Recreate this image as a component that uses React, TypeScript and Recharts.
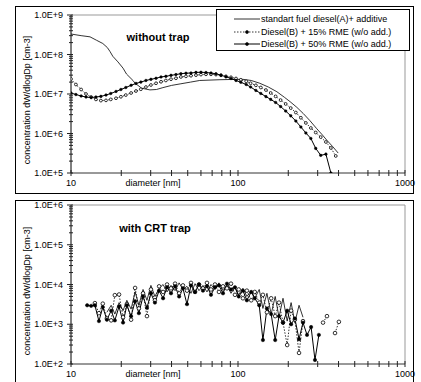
import { LineChart, Line, XAxis, YAxis, ReferenceLine, Legend } from "recharts";

const FONT = "'Liberation Sans', Arial, sans-serif";

// ---- top panel: without trap ----
const TOP_A_DIAM = [10, 11.5, 13.0, 14.2, 15.5, 16.5, 17.1, 17.8, 19.1, 20.5, 21.5, 23.5, 24.1, 26.5, 29.7, 32.5, 35.5, 40, 45, 52, 59, 68, 78, 90, 107, 120, 135, 152, 171, 190, 205, 225, 246, 270, 295, 320, 340, 370, 398];
const TOP_A = [3.3e8, 3.0e8, 2.8e8, 2.3e8, 1.9e8, 1.5e8, 1.2e8, 9.0e7, 6.5e7, 4.5e7, 3.2e7, 2.2e7, 1.9e7, 1.4e7, 1.27e7, 1.3e7, 1.45e7, 1.65e7, 1.8e7, 2.0e7, 2.2e7, 2.25e7, 2.3e7, 2.33e7, 2.35e7, 2.2e7, 1.87e7, 1.5e7, 1.14e7, 8.2e6, 6.4e6, 4.6e6, 3.2e6, 2.1e6, 1.35e6, 9.2e5, 6.8e5, 4.6e5, 3.2e5];

const TOP_DIAM = [10.0, 10.7, 11.5, 12.3, 13.2, 14.1, 15.1, 16.2, 17.3, 18.6, 19.9, 21.3, 22.9, 24.5, 26.2, 28.1, 30.1, 32.3, 34.6, 37.0, 39.7, 42.5, 45.5, 48.8, 52.3, 56.0, 60.0, 64.3, 68.9, 73.8, 79.1, 84.7, 90.8, 97.3, 104, 112, 119, 128, 137, 147, 157, 168, 180, 193, 207, 222, 238, 255, 273, 292, 313, 336, 360, 385];
const TOP_B = [2.4e7, 1.74e7, 1.3e7, 1.0e7, 8.4e6, 7.3e6, 6.8e6, 6.9e6, 7.3e6, 7.8e6, 8.5e6, 9.4e6, 1.06e7, 1.19e7, 1.32e7, 1.5e7, 1.69e7, 1.87e7, 2.04e7, 2.2e7, 2.37e7, 2.5e7, 2.7e7, 2.8e7, 2.9e7, 3.0e7, 3.1e7, 3.15e7, 3.15e7, 3.1e7, 2.97e7, 2.8e7, 2.65e7, 2.47e7, 2.29e7, 2.1e7, 1.87e7, 1.66e7, 1.46e7, 1.26e7, 1.06e7, 8.7e6, 7.0e6, 5.6e6, 4.4e6, 3.4e6, 2.5e6, 1.85e6, 1.38e6, 1.06e6, 8.1e5, 6.1e5, 4.3e5, 2.7e5];
const TOP_C = [1.06e7, 9.7e6, 8.9e6, 8.4e6, 8.1e6, 8.4e6, 8.7e6, 9.4e6, 1.03e7, 1.16e7, 1.3e7, 1.46e7, 1.66e7, 1.85e7, 2.0e7, 2.2e7, 2.35e7, 2.5e7, 2.7e7, 2.8e7, 2.97e7, 3.1e7, 3.27e7, 3.36e7, 3.4e7, 3.52e7, 3.55e7, 3.5e7, 3.4e7, 3.25e7, 3.0e7, 2.72e7, 2.47e7, 2.2e7, 1.98e7, 1.74e7, 1.5e7, 1.23e7, 1.03e7, 8.6e6, 7.3e6, 6.1e6, 4.8e6, 3.7e6, 2.8e6, 2.07e6, 1.46e6, 1.03e6, 7.5e5, 4.2e5, 2.8e5, 3.0e5, 1.0e5, null];

// ---- bottom panel: with CRT trap ----
const BOT_DIAM = [12.5, 13.2, 13.9, 14.7, 15.5, 16.4, 17.4, 18.3, 19.4, 20.5, 21.6, 22.9, 24.2, 25.5, 27.0, 28.5, 30.1, 31.8, 33.7, 35.6, 37.6, 39.7, 42.0, 44.4, 46.8, 49.5, 52.3, 55.3, 58.4, 61.7, 65.2, 68.9, 72.8, 76.9, 81.3, 85.9, 90.8, 95.9, 101, 107, 113, 120, 126, 134, 141, 149, 158, 167, 176, 186, 197, 208, 219, 232, 245, 259, 274, 289, 305, 323, 341, 361, 381, 402];
const BOT_A = [null, null, null, null, null, 2.0e3, 3.0e3, 1.8e3, 3.5e3, 2.2e3, 4.0e3, 2.4e3, 6.5e3, 3.0e3, 7.5e3, 4.0e3, 9.5e3, 5.0e3, 8.0e3, 1.0e4, 6.5e3, 9.5e3, 7.0e3, 1.1e4, 7.5e3, 9.0e3, 6.0e3, 1.05e4, 7.0e3, 9.5e3, 6.5e3, 1.0e4, 7.5e3, 1.1e4, 7.0e3, 9.5e3, 6.0e3, 8.5e3, 5.5e3, 8.0e3, 5.0e3, 7.0e3, 4.5e3, 7.5e3, 2.5e3, 6.0e3, 1.8e3, 5.0e3, 1.5e3, 4.5e3, 1.2e3, 3.5e3, 1.1e3, 3.0e3, 1.5e3, null, null, null, null, null, null, null, null, null];
const BOT_B = [null, null, 3.4e3, 1.9e3, 3.3e3, 1.4e3, 1.25e3, 5.4e3, 5.6e3, 1.5e3, 3.2e3, 1.3e3, 8.2e3, 2.5e3, 6.0e3, 1.6e3, 7.5e3, 4.0e3, 9.0e3, 6.5e3, 1.0e4, 8.0e3, 1.05e4, 6.0e3, 9.5e3, 7.0e3, 1.1e4, 6.5e3, 1.0e4, 8.0e3, 1.1e4, 7.5e3, 1.0e4, 6.5e3, 9.0e3, 8.0e3, 1.05e4, 5.5e3, 7.5e3, 4.5e3, 7.0e3, 4.0e3, 6.5e3, 3.5e3, 5.5e3, 2.0e3, 4.5e3, 1.6e3, 3.5e3, 1.1e3, 300, 2.2e3, 1.3e3, 190, 1.2e3, null, null, null, null, 1.1e3, 1.6e3, null, 600, 1.15e3];
const BOT_C = [3.0e3, 2.9e3, 3.0e3, 1.2e3, 2.7e3, 1.3e3, 2.2e3, 1.25e3, 2.8e3, 1.1e3, 3.0e3, 1.6e3, 3.8e3, 1.9e3, 5.0e3, 2.6e3, 6.0e3, 3.5e3, 7.0e3, 4.5e3, 8.5e3, 6.0e3, 9.0e3, 5.0e3, 8.0e3, 3.2e3, 9.5e3, 6.5e3, 1.0e4, 7.0e3, 9.0e3, 5.5e3, 8.5e3, 9.5e3, 6.0e3, 1.05e4, 7.5e3, 8.5e3, 5.0e3, 7.0e3, 4.0e3, 6.5e3, 4.5e3, 3.0e3, 400, 2.5e3, 1.8e3, 400, 1.6e3, 1.1e3, 2.2e3, 1.0e3, 1.4e3, 420, 1.1e3, 540, 850, 126, 540, null, null, null, null, null];

const LEGEND_ROWS = [
  { label: "standart fuel diesel(A)+ additive", kind: "a" },
  { label: "Diesel(B) + 15% RME (w/o add.)", kind: "b" },
  { label: "Diesel(B) + 50% RME (w/o add.)", kind: "c" },
];

function logTicks(lo: number, hi: number) {
  const out: number[] = [];
  for (let e = lo; e < hi; e++) for (let m = 1; m < 10; m++) out.push(m * 10 ** e);
  out.push(10 ** hi);
  return out;
}

function isDecade(v: number) {
  const l = Math.log10(v);
  return Math.abs(l - Math.round(l)) < 1e-6;
}

function XTick(props: any) {
  const { x, y, payload } = props;
  const v = payload.value;
  return (
    <g>
      <line x1={x} x2={x} y1={y - 3} y2={y + 3} stroke="#222" strokeWidth={1} />
      {isDecade(v) && (
        <text x={x} y={y + 13} textAnchor="middle" fontSize={9} fill="#000" fontFamily={FONT}>
          {v}
        </text>
      )}
    </g>
  );
}

function YTick(props: any) {
  const { x, y, payload } = props;
  const v = payload.value;
  const major = isDecade(v);
  return (
    <g>
      <line x1={major ? x - 4 : x - 2} x2={x + 2} y1={y} y2={y} stroke="#222" strokeWidth={1} />
      {major && (
        <text x={x - 8} y={y + 3} textAnchor="end" fontSize={9} fill="#000" fontFamily={FONT}>
          {`1.0E+${Math.round(Math.log10(v))}`}
        </text>
      )}
    </g>
  );
}

function LegendBox() {
  return (
    <div
      style={{
        border: "1px solid #000",
        background: "#fff",
        width: 194,
        height: 42,
        boxSizing: "border-box",
        fontFamily: FONT,
        fontSize: 9,
        paddingTop: 2.7,
        paddingLeft: 17,
        color: "#000",
      }}
    >
      {LEGEND_ROWS.map((r) => (
        <div key={r.kind} style={{ display: "flex", alignItems: "center", height: 12.7, whiteSpace: "nowrap" }}>
          <svg width={26} height={8} style={{ flex: "none" }}>
            <line
              x1={0}
              x2={26}
              y1={4}
              y2={4}
              stroke="#000"
              strokeWidth={r.kind === "c" ? 1 : 0.8}
              strokeDasharray={r.kind === "b" ? "1.5 1.5" : undefined}
            />
            {r.kind !== "a" && <circle cx={13} cy={4} r={1.5} fill="#000" stroke="#000" strokeWidth={0.6} />}
          </svg>
          <span style={{ marginLeft: 1 }}>{r.label}</span>
        </div>
      ))}
    </div>
  );
}

const X_TICKS = logTicks(1, 3);
const Y_TICKS_TOP = logTicks(5, 9);
const Y_TICKS_BOT = logTicks(2, 6);

const topA = TOP_A_DIAM.map((d, i) => ({ d, v: TOP_A[i] }));
const topBC = TOP_DIAM.map((d, i) => ({ d, b: TOP_B[i], c: TOP_C[i] }));
const bot = BOT_DIAM.map((d, i) => ({ d, a: BOT_A[i], b: BOT_B[i], c: BOT_C[i] }));

const openDot = { r: 1.4, fill: "#fff", stroke: "#000", strokeWidth: 0.8, strokeDasharray: "none" };
const fillDot = { r: 1.3, fill: "#000", stroke: "#000", strokeWidth: 0.5 };

function axes(yDomain: [number, number], yTicks: number[], xHeight: number) {
  return [
    <XAxis
      key="x"
      dataKey="d"
      type="number"
      scale="log"
      domain={[10, 1000]}
      allowDataOverflow
      ticks={X_TICKS}
      interval={0}
      tickSize={0}
      tickMargin={0}
      tickLine={false}
      axisLine={{ stroke: "#333" }}
      height={xHeight}
      tick={(p: any) => <XTick {...p} />}
    />,
    <YAxis
      key="y"
      type="number"
      scale="log"
      domain={yDomain}
      allowDataOverflow
      ticks={yTicks}
      interval={0}
      width={71}
      tickSize={0}
      tickMargin={0}
      tickLine={false}
      axisLine={{ stroke: "#000" }}
      tick={(p: any) => <YTick {...p} />}
    />,
    <ReferenceLine key="rt" y={yDomain[1]} stroke="#999" />,
    <ReferenceLine key="rr" x={1000} stroke="#999" />,
  ];
}

const textStyle = { position: "absolute" as const, fontFamily: FONT, color: "#000", whiteSpace: "nowrap" as const };

export default function App() {
  return (
    <div style={{ position: "absolute", left: 0, top: 0, width: 421, height: 382, background: "#fff", overflow: "hidden" }}>
      <div style={{ position: "absolute", left: 15, top: 6, width: 399, height: 188, border: "1px solid #000", boxSizing: "border-box" }} />
      <div style={{ position: "absolute", left: 15, top: 200, width: 399, height: 200, border: "1px solid #000", boxSizing: "border-box" }} />

      <div style={{ position: "absolute", left: 0, top: 0 }}>
        <LineChart width={421} height={195} margin={{ top: 15, right: 16, bottom: 2, left: 0 }}>
          {axes([1e5, 1e9], Y_TICKS_TOP, 20)}
          <Line data={topA} dataKey="v" stroke="#000" strokeWidth={0.8} dot={false} isAnimationActive={false} type="linear" />
          <Line data={topBC} dataKey="b" stroke="#000" strokeWidth={0.8} strokeDasharray="1.5 1.5" dot={openDot} isAnimationActive={false} type="linear" />
          <Line data={topBC} dataKey="c" stroke="#000" strokeWidth={1} dot={fillDot} isAnimationActive={false} type="linear" />
          <Legend
            layout="vertical"
            align="center"
            verticalAlign="middle"
            content={() => <LegendBox />}
            wrapperStyle={{ left: 216, top: 9, width: 194, height: 42 }}
          />
        </LineChart>
      </div>

      <div style={{ position: "absolute", left: 0, top: 190 }}>
        <LineChart width={421} height={192} margin={{ top: 15, right: 16, bottom: 0, left: 0 }}>
          {axes([1e2, 1e6], Y_TICKS_BOT, 18)}
          <Line data={bot} dataKey="a" stroke="#000" strokeWidth={0.8} dot={false} isAnimationActive={false} type="linear" />
          <Line data={bot} dataKey="b" stroke="#000" strokeWidth={0.8} strokeDasharray="1.5 1.5" dot={{ ...openDot, r: 1.8 }} isAnimationActive={false} type="linear" />
          <Line data={bot} dataKey="c" stroke="#000" strokeWidth={1} dot={{ ...fillDot, r: 1.7 }} isAnimationActive={false} type="linear" />
        </LineChart>
      </div>

      <div style={{ ...textStyle, left: 158, top: 37, fontSize: 11, fontWeight: "bold", transform: "translate(-50%,-50%)" }}>without trap</div>
      <div style={{ ...textStyle, left: 155, top: 228, fontSize: 11, fontWeight: "bold", transform: "translate(-50%,-50%)" }}>with CRT trap</div>
      <div style={{ ...textStyle, left: 153, top: 183, fontSize: 9, transform: "translate(-50%,-50%)" }}>diameter [nm]</div>
      <div style={{ ...textStyle, left: 153, top: 374, fontSize: 9, transform: "translate(-50%,-50%)" }}>diameter [nm]</div>
      <div style={{ ...textStyle, left: 27, top: 100, fontSize: 9, transform: "translate(-50%,-50%) rotate(-90deg)" }}>concentration dW/dlogDp [cm-3]</div>
      <div style={{ ...textStyle, left: 27, top: 291, fontSize: 9, transform: "translate(-50%,-50%) rotate(-90deg)" }}>concentration dW/dlogDp [cm-3]</div>
    </div>
  );
}
